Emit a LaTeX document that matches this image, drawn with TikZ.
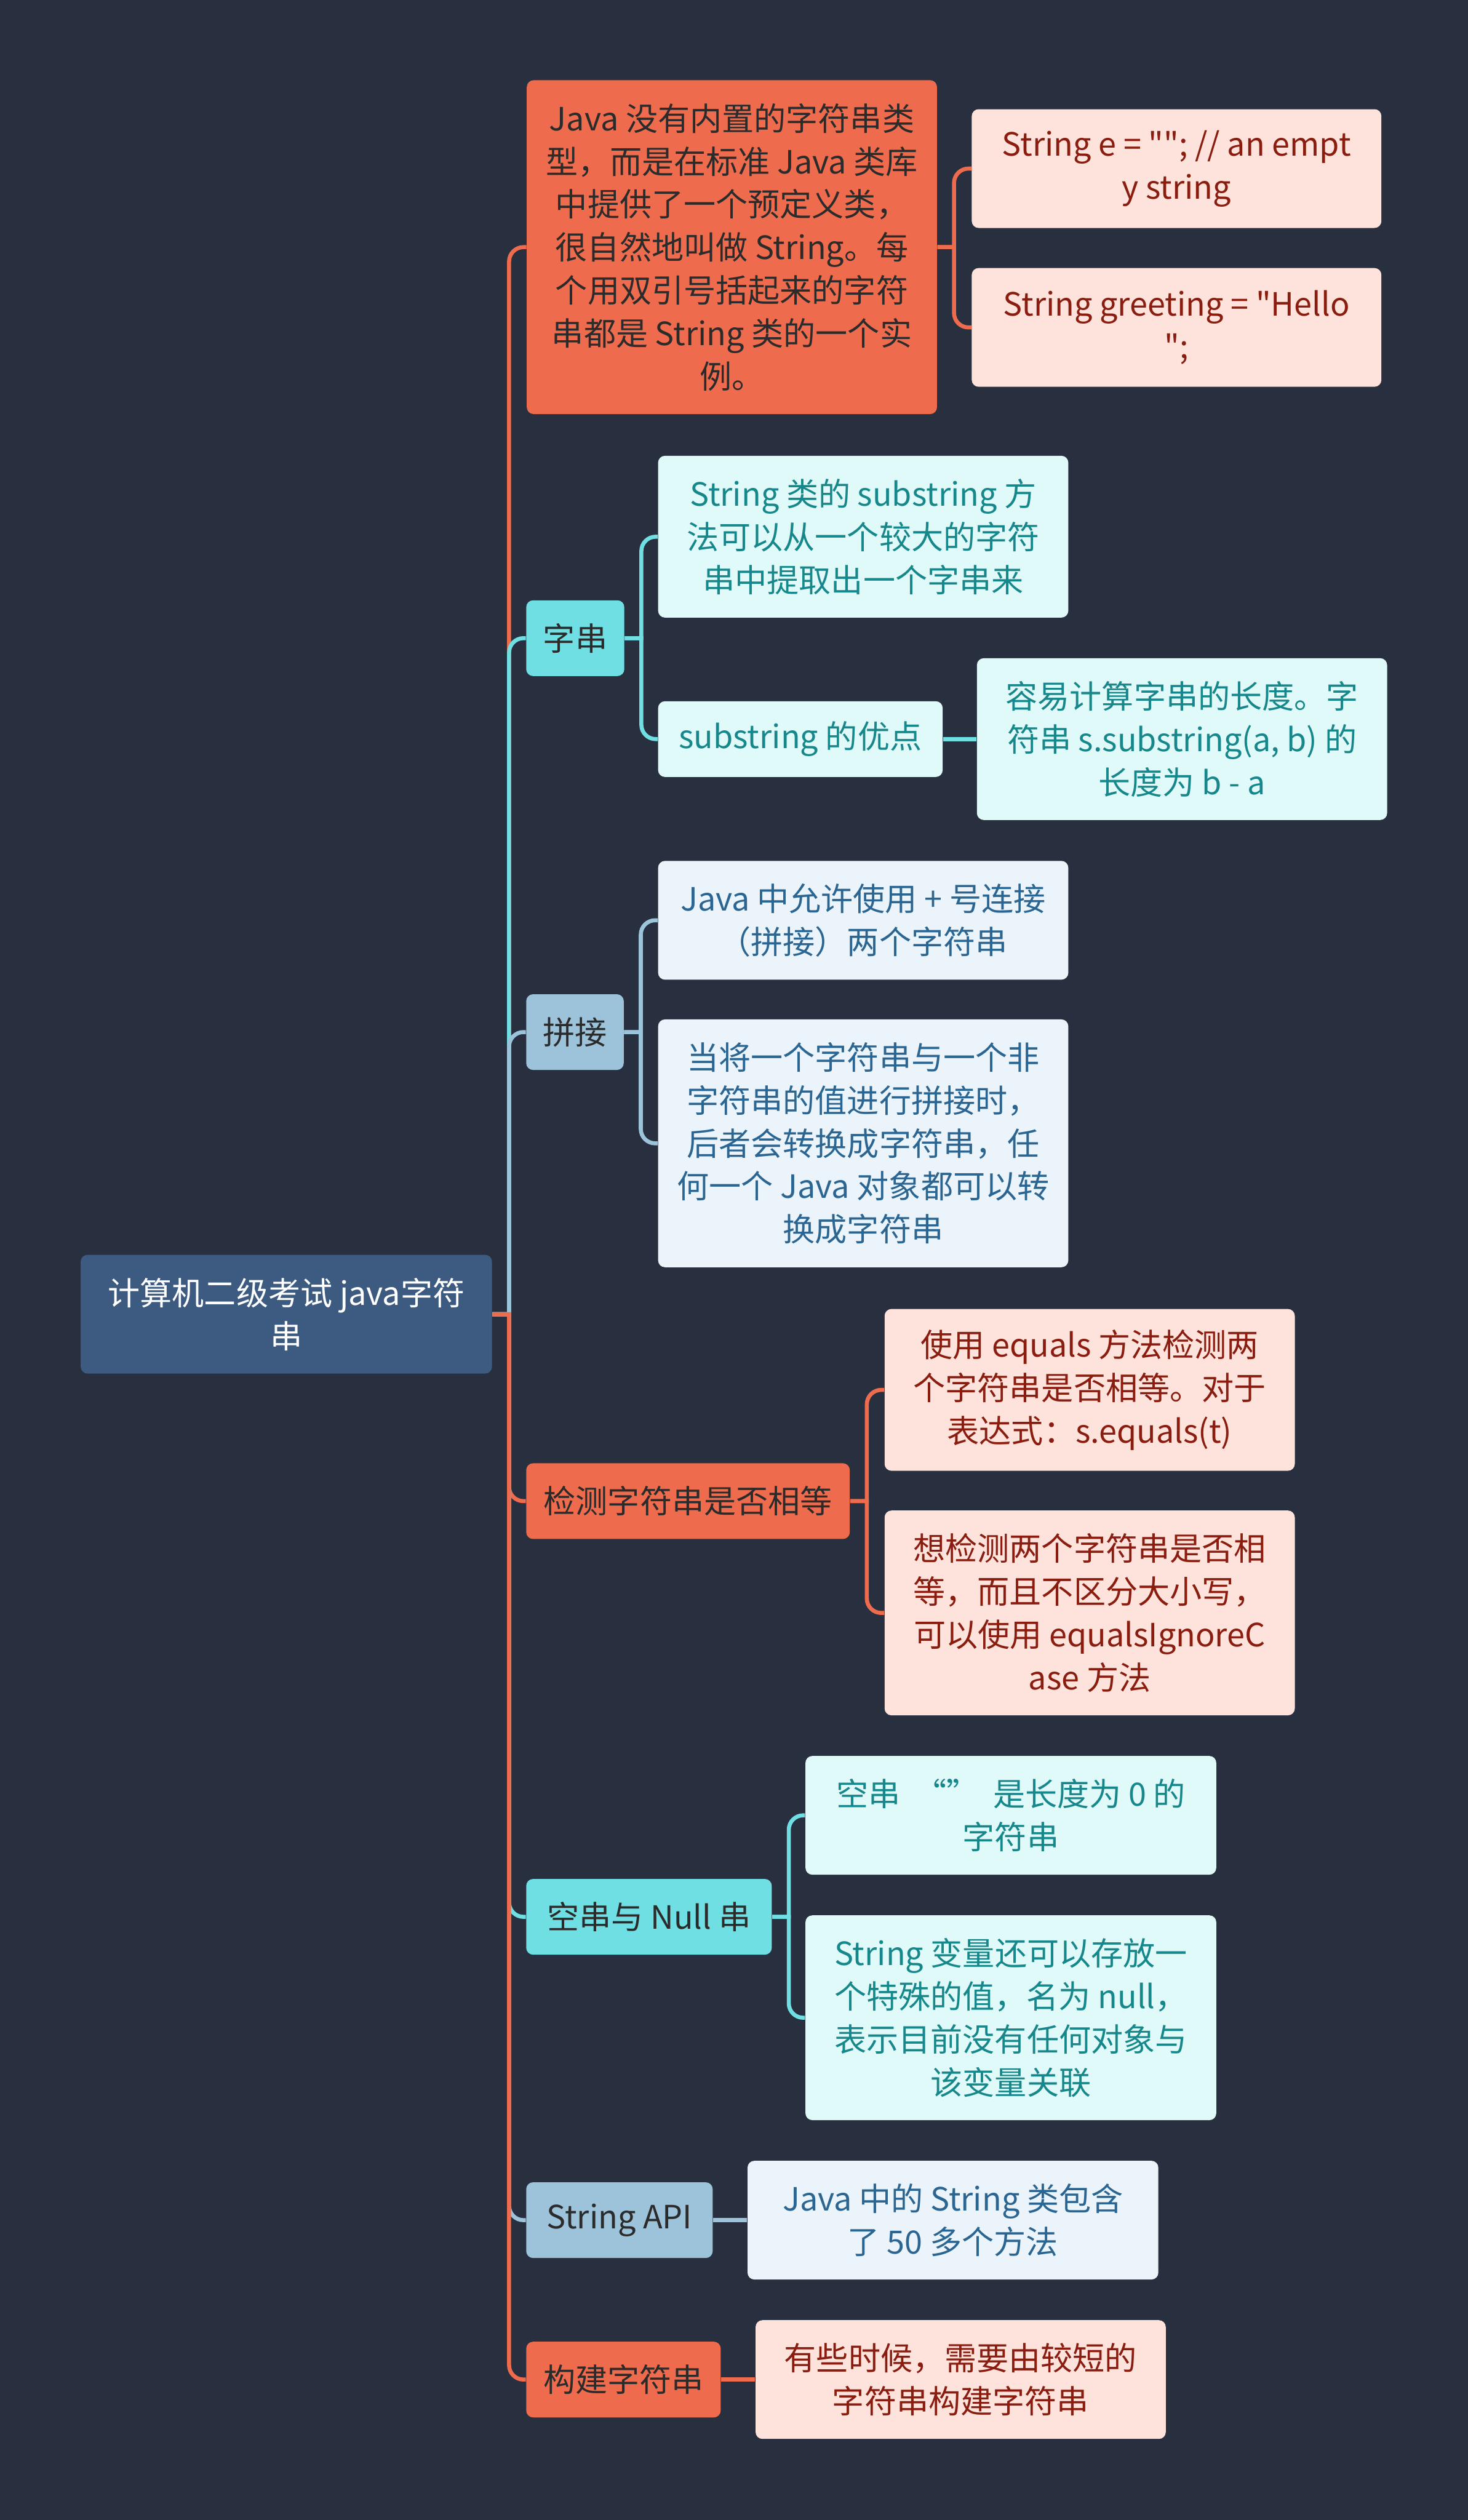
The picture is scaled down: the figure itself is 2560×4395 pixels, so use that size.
\documentclass[tikz,border=0pt]{standalone}
\usepackage{fontspec}
\setmainfont{Noto Sans CJK SC}[Ligatures=TeXOff]
\definecolor{mmFundo}{HTML}{282F3E}
\definecolor{mmRaiz}{HTML}{3D5A80}
\definecolor{mmLaranja}{HTML}{EE6C4D}
\definecolor{mmRosa}{HTML}{FDE3DC}
\definecolor{mmVinho}{HTML}{8A1D0F}
\definecolor{mmCiano}{HTML}{6FDFE4}
\definecolor{mmCianoClaro}{HTML}{E0F9F9}
\definecolor{mmTeal}{HTML}{16878A}
\definecolor{mmAzul}{HTML}{9DC3DB}
\definecolor{mmAzulClaro}{HTML}{EBF4FA}
\definecolor{mmAzulEsc}{HTML}{2B6592}
\definecolor{mmTinta}{HTML}{2B2B2B}

\begin{document}
\begin{tikzpicture}[x=0.01cm, y=-0.01cm]
  \tikzset{
    box/.style={anchor=west, rounded corners=1.2mm, inner sep=0pt, align=center,
                font=\fontsize{15.9pt}{21.3pt}\selectfont},
    rows/.style={minimum height=0.57cm+#1*0.75cm},
    raiz/.style={box, fill=mmRaiz, text=white},
    topoL/.style={box, fill=mmLaranja, text=mmTinta},
    topoC/.style={box, fill=mmCiano, text=mmTinta},
    topoA/.style={box, fill=mmAzul, text=mmTinta},
    folhaL/.style={box, fill=mmRosa, text=mmVinho},
    folhaC/.style={box, fill=mmCianoClaro, text=mmTeal},
    folhaA/.style={box, fill=mmAzulClaro, text=mmAzulEsc},
    lnk/.style={line width=2pt, draw=#1}}
  \fill[mmFundo] (0,0) rectangle (2560,4395);
  \useasboundingbox (0,0) rectangle (2560,4395);

  % raiz
  \node[raiz, rows=2, minimum width=7.17cm] (root) at (140,2292) {计算机二级考试 java字符\\串};

  % ramos
  \node[topoL, rows=7, minimum width=7.15cm] (j1) at (918,431)
    {Java 没有内置的字符串类\\型，而是在标准 Java 类库\\中提供了一个预定义类，\\很自然地叫做 String。每\\个用双引号括起来的字符\\串都是 String 类的一个实\\例。};
  \node[folhaL, rows=2, minimum width=7.14cm] (j1a) at (1694,294) {String e = ""; // an empt\\y string};
  \node[folhaL, rows=2, minimum width=7.14cm] (j1b) at (1694,571) {String greeting = "Hello\\";};

  \node[topoC, rows=1, minimum width=1.71cm] (zc) at (917,1113) {字串};
  \node[folhaC, rows=3, minimum width=7.15cm] (zc1) at (1147,936)
    {String 类的 substring 方\\法可以从一个较大的字符\\串中提取出一个字串来};
  \node[folhaC, rows=1, minimum width=4.96cm] (zc2) at (1147,1289) {substring 的优点};
  \node[folhaC, rows=3, minimum width=7.15cm] (zc2a) at (1703,1289)
    {容易计算字串的长度。字\\符串 s.substring(a, b) 的\\长度为 b - a};

  \node[topoA, rows=1, minimum width=1.70cm] (pj) at (917,1800) {拼接};
  \node[folhaA, rows=2, minimum width=7.15cm] (pj1) at (1147,1605) {Java 中允许使用 + 号连接\\（拼接）两个字符串};
  \node[folhaA, rows=5, minimum width=7.15cm] (pj2) at (1147,1994)
    {当将一个字符串与一个非\\字符串的值进行拼接时，\\后者会转换成字符串，任\\何一个 Java 对象都可以转\\换成字符串};

  \node[topoL, rows=1, minimum width=5.64cm] (jc) at (917,2618) {检测字符串是否相等};
  \node[folhaL, rows=3, minimum width=7.15cm] (jc1) at (1542,2424)
    {使用 equals 方法检测两\\个字符串是否相等。对于\\表达式：s.equals(t)};
  \node[folhaL, rows=4, minimum width=7.15cm] (jc2) at (1542,2813)
    {想检测两个字符串是否相\\等，而且不区分大小写，\\可以使用 equalsIgnoreC\\ase 方法};

  \node[topoC, rows=1, minimum width=4.28cm] (kc) at (917,3343) {空串与 Null 串};
  \node[folhaC, rows=2, minimum width=7.16cm] (kc1) at (1404,3166) {空串 \ “” \ 是长度为 0 的\\字符串};
  \node[folhaC, rows=4, minimum width=7.16cm] (kc2) at (1404,3519)
    {String 变量还可以存放一\\个特殊的值，名为 null，\\表示目前没有任何对象与\\该变量关联};

  \node[topoA, rows=1, minimum width=3.25cm] (api) at (917,3872) {String API};
  \node[folhaA, rows=2, minimum width=7.16cm] (api1) at (1303,3872) {Java 中的 String 类包含\\了 50 多个方法};

  \node[topoL, rows=1, minimum width=3.39cm] (gj) at (917,4150) {构建字符串};
  \node[folhaL, rows=2, minimum width=7.15cm] (gj1) at (1317,4150) {有些时候，需要由较短的\\字符串构建字符串};

  % ligacoes da raiz
  \foreach \n/\c in {j1/mmLaranja, zc/mmCiano, pj/mmAzul, jc/mmLaranja,
                     kc/mmCiano, api/mmAzul, gj/mmLaranja}
    \draw[lnk=\c] (root.east) -- ++(29,0) [rounded corners=2.5mm] |- (\n.west);

  % ligacoes dos ramos
  \foreach \p/\f/\c in {j1/j1a/mmLaranja, j1/j1b/mmLaranja, zc/zc1/mmCiano, zc/zc2/mmCiano,
                        pj/pj1/mmAzul, pj/pj2/mmAzul, jc/jc1/mmLaranja, jc/jc2/mmLaranja,
                        kc/kc1/mmCiano, kc/kc2/mmCiano}
    \draw[lnk=\c] (\p.east) -- ++(29,0) [rounded corners=2.5mm] |- (\f.west);
  \draw[lnk=mmCiano] (zc2.east) -- (zc2a.west);
  \draw[lnk=mmAzul] (api.east) -- (api1.west);
  \draw[lnk=mmLaranja] (gj.east) -- (gj1.west);
\end{tikzpicture}
\end{document}
